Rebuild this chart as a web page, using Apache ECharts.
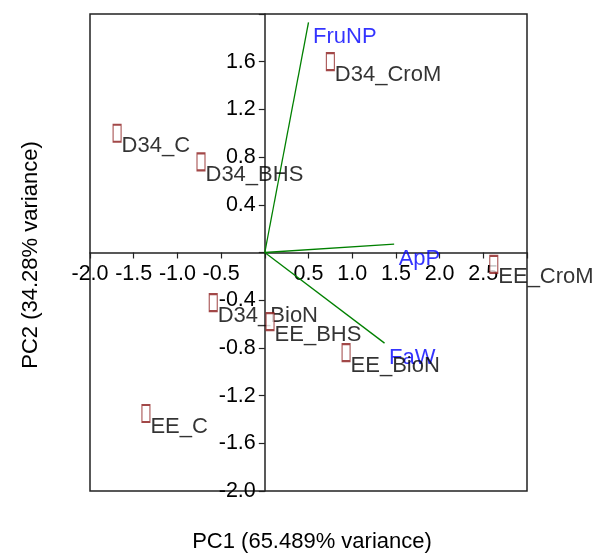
<!DOCTYPE html>
<html>
<head>
<meta charset="utf-8">
<script src="https://cdn.jsdelivr.net/npm/echarts@6/dist/echarts.min.js"></script>
<style>
html,body{margin:0;padding:0;background:#fff;}
#chart{width:593px;height:553px;}
</style>
</head>
<body>
<div id="chart"></div>
<script>
// Observation scores
const pointNames = ['D34_C','D34_BHS','D34_CroM','EE_CroM','D34_BioN','EE_BHS','EE_BioN','EE_C'];
const pc1Scores = [-1.69, -0.73, 0.75, 2.62, -0.59, 0.06, 0.93, -1.36];
const pc2Scores = [1.00, 0.76, 1.60, -0.10, -0.42, -0.58, -0.84, -1.35];
// Variable loadings (vectors)
const loadingNames = ['FruNP','ApP','FaW'];
const pc1Loadings = [0.50, 1.48, 1.37];
const pc2Loadings = [1.93, 0.07, -0.76];
// Axis settings
const xMin = -2, xMax = 3, xStep = 0.5;
const yMin = -2, yMax = 2, yStep = 0.4;
const xTitle = 'PC1 (65.489% variance)';
const yTitle = 'PC2 (34.28% variance)';

const FONT = '"Liberation Sans", Arial, sans-serif';
const GRID = { left: 90, top: 14, width: 437, height: 477 };
const chart = echarts.init(document.getElementById('chart'));

// place the axes through the origin by offsetting them from the grid edges
const xAxisOffset = -GRID.height * (0 - yMin) / (yMax - yMin);
const yAxisOffset = -GRID.width * (0 - xMin) / (xMax - xMin);

const pointData = pointNames.map((n, i) => ({ name: n, value: [pc1Scores[i], pc2Scores[i]] }));
const loadData = loadingNames.map((n, i) => ({ name: n, value: [pc1Loadings[i], pc2Loadings[i]] }));

const vectorSeries = loadingNames.map((n, i) => ({
  type: 'line',
  z: 2,
  symbol: 'none',
  silent: true,
  lineStyle: { color: '#008000', width: 1.3 },
  data: [[0, 0], [pc1Loadings[i], pc2Loadings[i]]]
}));

function fmt(excl) {
  return function (v) {
    for (const e of excl) if (Math.abs(v - e) < 1e-9) return '';
    return v.toFixed(1);
  };
}

chart.setOption({
  animation: false,
  backgroundColor: '#fff',
  grid: Object.assign({ show: true, borderColor: '#222', borderWidth: 1.5, backgroundColor: 'transparent' }, GRID),
  xAxis: {
    type: 'value', min: xMin, max: xMax, interval: xStep,
    position: 'bottom', offset: xAxisOffset,
    axisLine: { onZero: false, lineStyle: { color: '#222', width: 1.5 } },
    axisTick: { length: 6, lineStyle: { color: '#222', width: 1.2 } },
    axisLabel: { color: '#000', fontSize: 21.5, fontFamily: FONT, margin: 11, formatter: fmt([0, xMax]) },
    splitLine: { show: false }
  },
  yAxis: {
    type: 'value', min: yMin, max: yMax, interval: yStep,
    position: 'left', offset: yAxisOffset,
    axisLine: { onZero: false, lineStyle: { color: '#222', width: 1.5 } },
    axisTick: { length: 6, lineStyle: { color: '#222', width: 1.2 } },
    axisLabel: { color: '#000', fontSize: 21.5, fontFamily: FONT, margin: 9, formatter: fmt([0, yMax]) },
    splitLine: { show: false }
  },
  graphic: [
    { type: 'text', x: 312, y: 542, style: { text: xTitle, fontSize: 22, fontFamily: FONT, fill: '#000', textAlign: 'center', textVerticalAlign: 'middle' } },
    { type: 'text', x: 31, y: 255, rotation: Math.PI / 2, style: { text: yTitle, fontSize: 22, fontFamily: FONT, fill: '#000', textAlign: 'center', textVerticalAlign: 'middle' } }
  ],
  series: vectorSeries.concat([
    {
      type: 'scatter', z: 3, silent: true,
      symbol: 'circle', symbolSize: 1,
      itemStyle: { color: 'rgba(0,0,0,0)' },
      label: { show: true, position: 'right', distance: 4, offset: [0, 15], formatter: '{b}', color: '#0000ff', fontSize: 22, fontFamily: FONT },
      data: loadData
    },
    {
      type: 'scatter', z: 3, silent: true,
      symbol: 'circle', symbolSize: 1,
      itemStyle: { color: 'rgba(0,0,0,0)' },
      label: { show: true, position: 'right', distance: 4, offset: [0, 13], formatter: '{b}', color: '#000', fontSize: 22, fontFamily: FONT },
      data: pointData
    },
    {
      type: 'scatter', z: 5, silent: true,
      symbol: 'rect', symbolSize: [8, 17],
      itemStyle: { color: '#fff', borderColor: '#8b1a1a', borderWidth: 1.5 },
      data: pointData
    }
  ])
});
</script>
</body>
</html>
